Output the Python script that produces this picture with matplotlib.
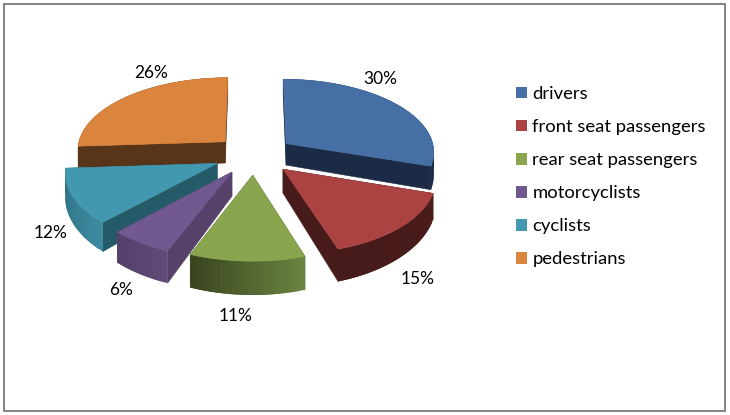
import numpy as np
import matplotlib
matplotlib.use("Agg")
import matplotlib.pyplot as plt
from matplotlib.patches import Polygon, Patch, Rectangle

plt.rcParams["font.family"] = ["Lato", "DejaVu Sans"]

categories = ["drivers", "front seat passengers", "rear seat passengers",
              "motorcyclists", "cyclists", "pedestrians"]
shares = [30, 15, 11, 6, 12, 26]

top_colors = ["#4670A5", "#AA4341", "#89A54E", "#71588F", "#4198AF", "#DB843D"]
cut_colors = ["#1B2B46", "#461B19", "#3C4A20", "#55416A", "#255B69", "#583418"]
wall_start = ["#1B2B46", "#4A1C1A", "#6A8240", "#5F4B78", "#3C8AA0", "#583418"]
wall_end = ["#1B2B46", "#461B19", "#3A4620", "#55406A", "#2F6E80", "#583418"]
label_xy = [(380, 79), (418, 279), (236, 316), (121, 290), (51, 233), (151, 73)]

# Projection of the tilted pie onto pixel coordinates
CX, CY = 254.0, 155.0
RX, RY = 149.0, 73.0
PERSP = 0.10
EXPLODE = 0.27
DEPTH = 22.5
DRAW_ORDER = [5, 0, 4, 3, 2, 1]


def project(x, z):
    s = 1.0 / (1.0 - PERSP * z)
    return CX + RX * x * s, CY + RY * z * s, s


def mix(c0, c1, t):
    a = np.array(matplotlib.colors.to_rgb(c0))
    b = np.array(matplotlib.colors.to_rgb(c1))
    return tuple(a + (b - a) * t)


fig = plt.figure(figsize=(7.3, 4.15), dpi=100)
ax = fig.add_axes([0, 0, 1, 1])
ax.set_xlim(0, 730)
ax.set_ylim(415, 0)
ax.axis("off")

ax.add_patch(Rectangle((4, 4.5), 721, 406.5, fill=False, edgecolor="#868686", linewidth=1.45))

edges = np.cumsum([0] + shares) / sum(shares) * 2 * np.pi

for i in DRAW_ORDER:
    a0, a1 = edges[i], edges[i + 1]
    mid = (a0 + a1) / 2
    ox, oz = EXPLODE * np.sin(mid), -EXPLODE * np.cos(mid)
    theta = np.linspace(a0, a1, max(8, int((a1 - a0) * 30)))
    wx = ox + np.sin(theta)
    wz = oz - np.cos(theta)
    px, py, ps = project(wx, wz)
    ax0, ay0, as0 = project(ox, oz)
    d = DEPTH * ps ** 3
    d0 = DEPTH * as0 ** 3

    # radial cut faces
    for k in (0, -1):
        pts = [(ax0, ay0), (px[k], py[k]), (px[k], py[k] + d[k]), (ax0, ay0 + d0)]
        ax.add_patch(Polygon(pts, closed=True, facecolor=cut_colors[i],
                             edgecolor=cut_colors[i], linewidth=0.4))

    # outer wall, shaded along the arc; each strip runs under the next to hide seams
    for k in range(len(theta) - 1):
        col = mix(wall_start[i], wall_end[i], k / (len(theta) - 2))
        e = min(k + 2, len(theta) - 1)
        pts = [(px[j], py[j]) for j in range(k, e + 1)] + \
              [(px[j], py[j] + d[j]) for j in range(e, k - 1, -1)]
        ax.add_patch(Polygon(pts, closed=True, facecolor=col, edgecolor="none", linewidth=0))

    # top face
    top = np.column_stack([np.r_[ax0, px], np.r_[ay0, py]])
    ax.add_patch(Polygon(top, closed=True, facecolor=top_colors[i],
                         edgecolor=top_colors[i], linewidth=0.4))

for share, (lx, ly) in zip(shares, label_xy):
    ax.text(lx, ly, f"{share}%", ha="center", va="center", fontsize=12.5, color="black")

handles = [Patch(facecolor=c, edgecolor="none", label=n) for c, n in zip(top_colors, categories)]
ax.legend(handles=handles, loc="upper left", bbox_to_anchor=(515.5 / 730, 1 - 86 / 415),
          frameon=False, fontsize=13.3, labelspacing=0.925, handlelength=0.6,
          handleheight=0.6, handletextpad=0.32, borderpad=0, borderaxespad=0)

fig.savefig("out.png", dpi=100)
